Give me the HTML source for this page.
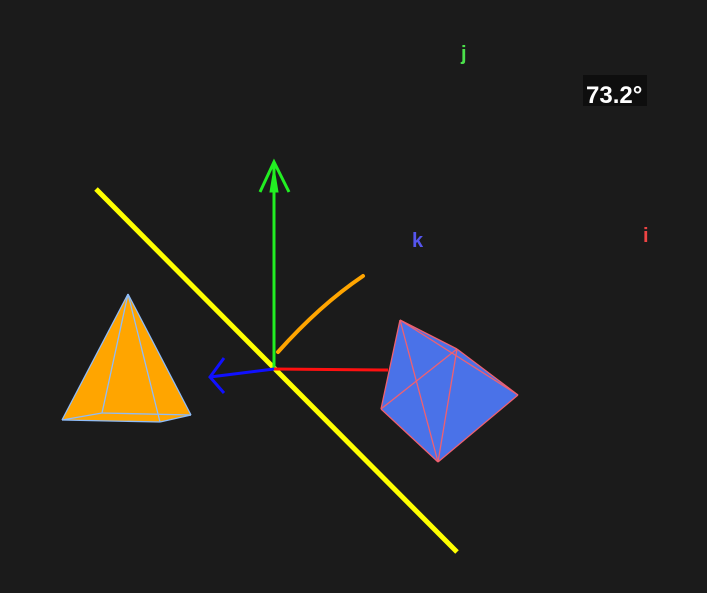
<!DOCTYPE html>
<html><head><meta charset="utf-8"><style>
html,body{margin:0;padding:0;background:#1b1b1b;}
svg{display:block}
text{font-family:"Liberation Sans",sans-serif;font-weight:bold}
</style></head><body>
<svg id="scene" width="707" height="593" viewBox="0 0 707 593">
<rect width="707" height="593" fill="#1b1b1b"/>
<line x1="96" y1="189" x2="457" y2="552" stroke="#ffff00" stroke-width="5"/>
<g id="pyr"></g>
<g id="oct"></g>
<path d="M278,352 Q320,305 363,276" stroke="#ffa500" stroke-width="4" fill="none" stroke-linecap="round"/>
<g stroke="#22ee22" stroke-width="3" fill="none">
<line x1="274" y1="369" x2="274" y2="165"/><polyline points="260,192 274,162 289,192"/>
<polygon points="270,192 274,168 278,192" fill="#22ee22" stroke-width="1"/></g>
<line x1="274" y1="369" x2="388" y2="370" stroke="#ff1010" stroke-width="3"/>
<g stroke="#1010ff" stroke-width="3" fill="none">
<line x1="274" y1="369" x2="210" y2="377"/><polyline points="224,358 210,377 224,393"/></g>
<text x="461" y="60" font-size="20" fill="#4be04b">j</text>
<text x="412" y="247" font-size="20" fill="#5555ee">k</text>
<text x="643" y="242" font-size="20" fill="#ee4444">i</text>
<rect x="583" y="75" width="64" height="31" fill="#0e0e0e"/>
<text x="586" y="103" font-size="24" fill="#ffffff">73.2°</text>
</svg>
<script>
const pyrVerts=[[128,294],[62,420],[102,413],[191,415],[160,422]];
const pyrEdges=[[0,1],[0,2],[0,3],[0,4],[1,2],[2,3],[3,4],[4,1]];
const octVerts=[[400,320],[457,349],[518,395],[438,462],[381,409]];
const octEdges=[[0,1],[1,2],[2,3],[3,4],[4,0],[0,3],[1,3],[4,1],[0,2]];
const NS="http://www.w3.org/2000/svg";
const pyr=document.getElementById('pyr');
const pb=document.createElementNS(NS,'polygon');


pb.setAttribute('points',[0,3,4,1].map(i=>pyrVerts[i].join(',')).join(' '));
pb.setAttribute('fill','#ffa500');pyr.appendChild(pb);
pyrEdges.forEach(e=>{const l=document.createElementNS(NS,'line');


l.setAttribute('x1',pyrVerts[e[0]][0]);l.setAttribute('y1',pyrVerts[e[0]][1]);
l.setAttribute('x2',pyrVerts[e[1]][0]);l.setAttribute('y2',pyrVerts[e[1]][1]);
l.setAttribute('stroke','#8fbcf8');l.setAttribute('stroke-width','1.3');pyr.appendChild(l);});
const oct=document.getElementById('oct');
const body=document.createElementNS(NS,'polygon');


body.setAttribute('points',octVerts.map(v=>v.join(',')).join(' '));
body.setAttribute('fill','#4a72e8');oct.appendChild(body);
octEdges.forEach(e=>{const l=document.createElementNS(NS,'line');


l.setAttribute('x1',octVerts[e[0]][0]);l.setAttribute('y1',octVerts[e[0]][1]);
l.setAttribute('x2',octVerts[e[1]][0]);l.setAttribute('y2',octVerts[e[1]][1]);
l.setAttribute('stroke','#f06070');l.setAttribute('stroke-width','1.3');oct.appendChild(l);});
</script>
</body></html>
